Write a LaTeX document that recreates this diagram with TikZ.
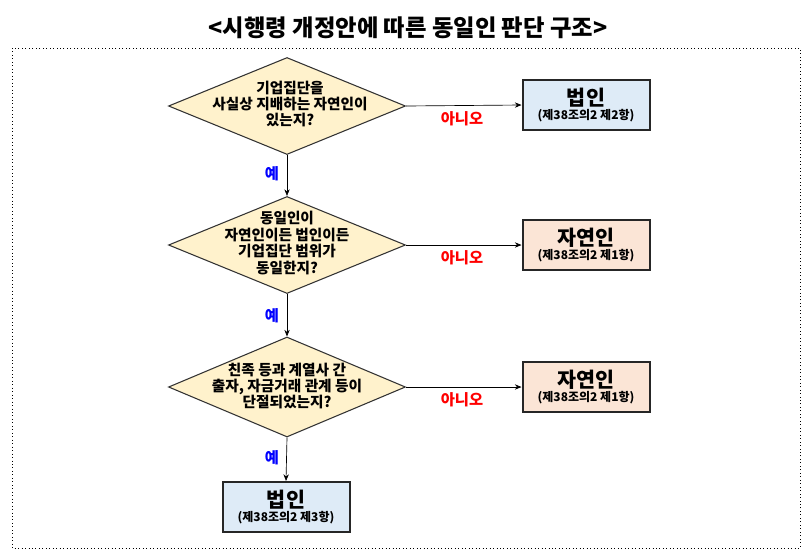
\documentclass[tikz,border=0pt]{standalone}
\usepackage{fontspec}
\setmainfont{Noto Sans CJK KR}
\usetikzlibrary{shapes.geometric,arrows.meta}
\definecolor{dia}{HTML}{FFF2CC}
\definecolor{blu}{HTML}{DEEBF7}
\definecolor{pch}{HTML}{FBE5D6}
\tikzset{
 dec/.style={diamond,draw=black!80,line width=0.8pt,fill=dia,aspect=2.45,minimum width=237*0.75pt,minimum height=97*0.75pt,inner sep=0pt},
 dtxt/.style={align=center,font=\fontsize{11}{12.3}\selectfont\bfseries},
 res/.style={draw=black!85,line width=1.5pt,minimum width=127*0.75pt,minimum height=50*0.75pt,align=center,inner sep=1pt},
 arr/.style={-{Stealth[length=5pt,width=4pt]},line width=0.5pt},
 no/.style={text=red,font=\fontsize{11.5}{13}\selectfont\bfseries},
 yes/.style={text=blue,font=\fontsize{11.5}{13}\selectfont\bfseries}
}
\begin{document}
\begin{tikzpicture}[x=0.75pt,y=-0.75pt]
\useasboundingbox (0,0) rectangle (812,557);
\node (title) at (408,28) {\fontsize{17.5}{20}\selectfont\bfseries <시행령 개정안에 따른 동일인 판단 구조>};
\draw[dotted,line width=0.6pt] (12,48) rectangle (800,548);
\node[dec] (d1) at (287,106) {};
\node[dec] (d2) at (287,245) {};
\node[dec,minimum height=100*0.75pt] (d3) at (287,387) {};
\node[dtxt] (t1) at (290,104) {기업집단을\\사실상 지배하는 자연인이\\있는지?};
\node[dtxt] (t2) at (287,243) {동일인이\\자연인이든 법인이든\\기업집단 범위가\\동일한지?};
\node[dtxt] (t3) at (287,386) {친족 등과 계열사 간\\출자, 자금거래 관계 등이\\단절되었는지?};
\newcommand{\resl}[2]{{\fontsize{15.5}{18}\selectfont\bfseries #1}\\[-2pt]{\fontsize{9}{10}\selectfont\bfseries #2}}
\node[res,fill=blu] (r1) at (586,105) {\resl{법인}{(제38조의2 제2항)}};
\node[res,fill=pch] (r2) at (586,245) {\resl{자연인}{(제38조의2 제1항)}};
\node[res,fill=pch] (r3) at (586,387) {\resl{자연인}{(제38조의2 제1항)}};
\node[res,fill=blu] (r4) at (286,507) {\resl{법인}{(제38조의2 제3항)}};
\draw[arr] (d1.east) -- (r1.west);
\draw[arr] (d2.east) -- (r2.west);
\draw[arr] (d3.east) -- (r3.west);
\draw[arr] (d1.south) -- (d2.north);
\draw[arr] (d2.south) -- (d3.north);
\draw[arr] (d3.south) -- (r4.north);
\node[no] (n1) at (462,119) {아니오};
\node[no] (n2) at (462,258) {아니오};
\node[no] (n3) at (462,400) {아니오};
\node[yes] (y1) at (272,174) {예};
\node[yes] (y2) at (272,316) {예};
\node[yes] (y3) at (272,458) {예};
\end{tikzpicture}
\end{document}
